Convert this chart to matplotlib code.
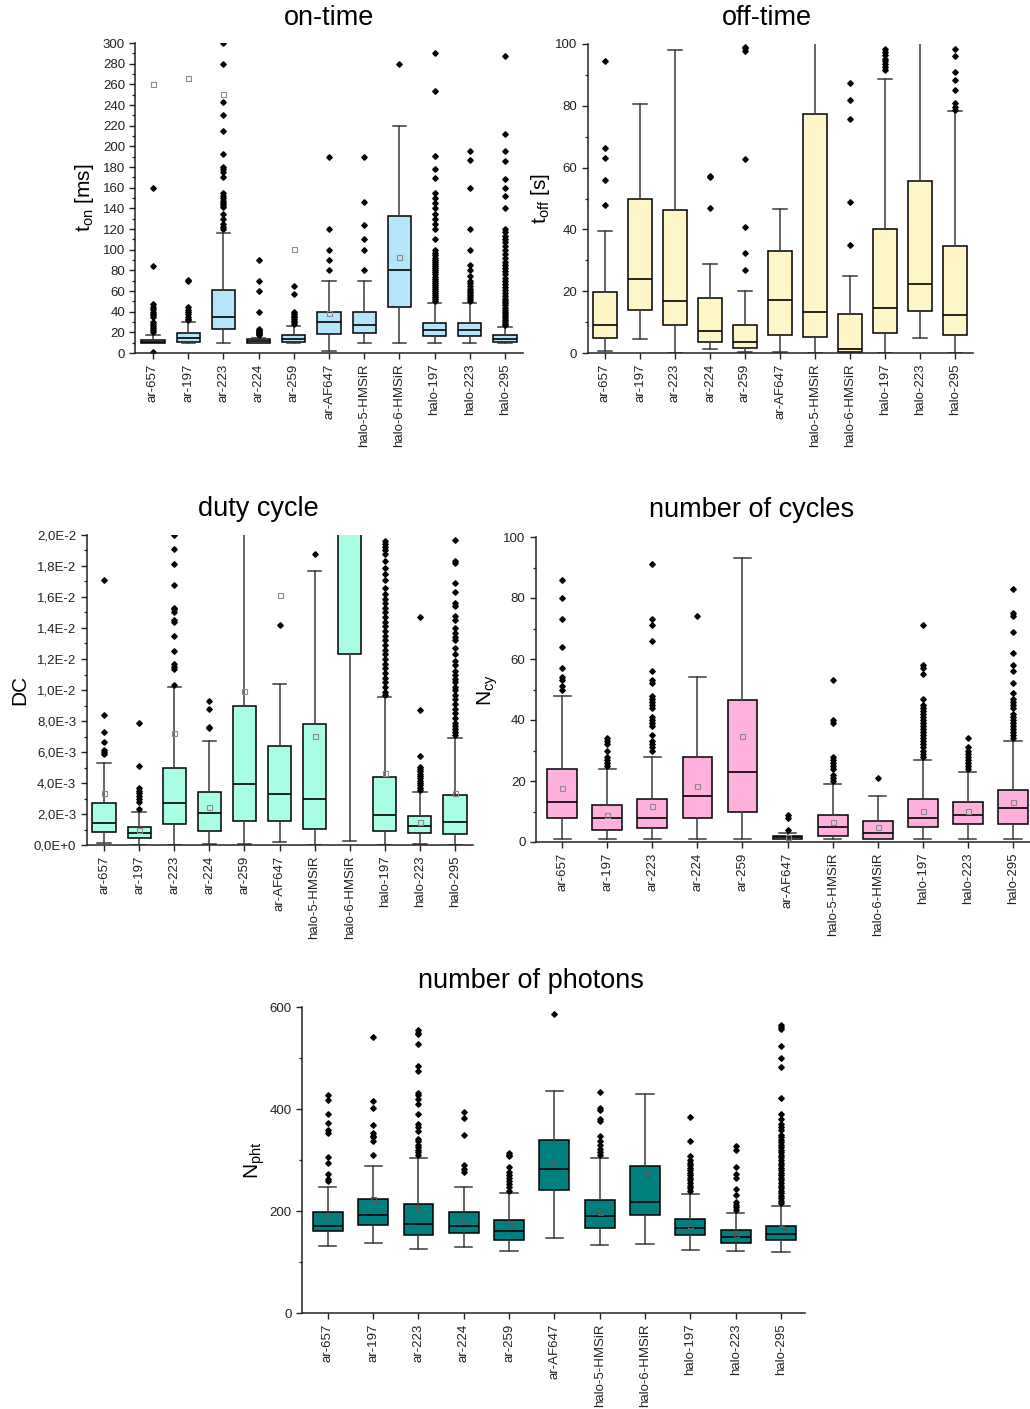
import numpy as np
import matplotlib
matplotlib.use("Agg")
import matplotlib.pyplot as plt
from matplotlib.ticker import MultipleLocator, FuncFormatter

plt.rcParams['font.family'] = ['Liberation Sans', 'DejaVu Sans']

labels = ['ar-657', 'ar-197', 'ar-223', 'ar-224', 'ar-259', 'ar-AF647',
          'halo-5-HMSiR', 'halo-6-HMSiR', 'halo-197', 'halo-223', 'halo-295']
nan = np.nan

# ---- on-time [ms]
on_q1 = [10, 11, 23, 10, 11, 18.5, 19, 45, 16.5, 16.5, 11]
on_med = [11, 15, 35, 12, 13.5, 30, 27, 80, 22, 22.6, 14]
on_q3 = [13, 19.4, 60.5, 14, 17, 40, 40, 133, 29.4, 29.4, 17]
on_lo = [10, 10, 10, 10, 10, 1.6, 10, 10, 10, 10, 10]
on_hi = [17.7, 29.7, 116, 15, 25.8, 70, 70, 220, 48.4, 48.4, 25]
on_mean = [260, 266, 251, nan, 101, 39, nan, 93, nan, nan, nan]
on_fliers = [
    [160, 84, 47, 45, 43, 40, 38, 37, 35, 30, 28, 26, 24, 22, 20, 1],
    [71, 70, 45, 42, 40, 38, 35, 33, 32],
    [300, 280, 243, 230, 215, 193, 180, 178, 175, 170, 155, 152, 150, 147,
     145, 143, 141, 135, 130, 125, 122, 120],
    [90, 70, 60, 40, 23, 22, 21, 20, 19, 18, 17],
    [65, 57, 40, 38, 36, 35, 33, 31, 30, 28],
    [190, 120, 100, 90, 80],
    [190, 146, 124, 110, 100, 80],
    [280],
    [290, 254, 191, 178, 169, 155, 150, 145, 140, 135, 130, 125, 120, 110,
     100, 97, 95, 92, 90, 88, 86, 84, 82, 80, 78, 76, 74, 72, 70, 68, 66,
     64, 62, 60, 58, 56, 54, 52, 50],
    [195, 187, 160, 120, 100, 85, 80, 75, 70, 68, 65, 62, 60, 58, 56, 54,
     52, 50],
    [287, 212, 195, 186, 168, 160, 152, 140, 120, 117, 113, 110, 107, 104,
     100, 96, 92, 88, 85, 82, 79, 76, 73, 70, 67, 64, 61, 58, 55, 52, 50,
     48, 46, 44, 42, 40, 38, 36, 34, 32, 30, 28, 27],
]

# ---- off-time [s]
off_q1 = [4.7, 13.8, 9, 3.5, 1.7, 5.7, 5.1, 0.3, 6.5, 13.7, 5.7]
off_med = [9.2, 23.8, 16.8, 7.2, 3.6, 17.3, 13.4, 1.3, 14.6, 22.2, 12.2]
off_q3 = [19.6, 49.8, 46.4, 17.8, 9.1, 33.1, 77.5, 12.5, 40.1, 55.7, 34.7]
off_lo = [0.6, 4.6, 0, 1.2, 0.2, 0.3, 0, 0, 0, 5, 0]
off_hi = [39.6, 80.6, 98, 28.7, 20, 46.7, 130, 24.9, 88.8, 140, 78.2]
off_mean = [nan] * 11
off_fliers = [
    [94.5, 66.4, 63, 56, 48],
    [],
    [],
    [57.3, 57, 47],
    [99, 98.7, 97.8, 62.7, 40.7, 32.5, 27],
    [],
    [],
    [87.4, 82, 75.7, 48.8, 34.8],
    [98.3, 97.3, 96.4, 95.3, 94.4, 93.5, 92.5, 91.6],
    [],
    [98.4, 96.2, 90.9, 88.5, 85.2, 80.9, 79.5, 78.8],
]

# ---- duty cycle (values in units of 1e-3)
dc_q1 = [0.82, 0.43, 1.38, 0.92, 1.55, 1.55, 1.03, 12.3, 0.92, 0.75, 0.69]
dc_med = [1.40, 0.75, 2.73, 2.04, 3.91, 3.31, 2.97, 25, 1.91, 1.23, 1.48]
dc_q3 = [2.69, 1.14, 4.95, 3.40, 8.97, 6.39, 7.83, 30, 4.37, 1.87, 3.20]
dc_lo = [0.13, 0.02, 0.02, 0.06, 0.06, 0.2, 0.02, 0.26, 0.02, 0.06, 0.02]
dc_hi = [5.31, 2.1, 10.2, 6.73, 30, 10.4, 17.7, 40, 9.53, 3.44, 6.92]
dc_mean = [3.38, 0.97, 7.2, 2.47, 9.96, 16.1, 7.03, nan, 4.67, 1.5, 3.33]
dc_fliers = [
    [17.1, 8.37, 7.29, 6.62, 6.1, 6.0, 5.85],
    [7.89, 5.12, 3.66, 3.5, 3.33, 3.16, 3.0, 2.8, 2.3],
    [20.0, 19.1, 18.1, 16.8, 15.3, 15.2, 15.0, 14.5, 14.4, 13.5, 12.5,
     11.65, 11.5, 11.35, 10.34],
    [9.29, 8.8, 7.63, 7.53],
    [],
    [14.2],
    [18.8],
    [],
    [19.6, 19.4, 19.2, 19.0, 18.8, 18.3, 17.9, 17.5, 17.1, 16.6, 16.2, 15.9,
     15.6, 15.3, 15.0, 14.7, 14.4, 14.1, 13.8, 13.5, 13.2, 12.9, 12.6, 12.3,
     12.0, 11.7, 11.4, 11.1, 10.8, 10.5, 10.2, 9.9, 9.7],
    [14.7, 8.73, 5.74, 5.05, 4.9, 4.75, 4.6, 4.45, 4.3, 4.15, 4.0, 3.85,
     3.7, 3.55],
    [19.7, 18.3, 18.2, 16.9, 16.3, 15.6, 15.4, 14.8, 14.5, 14.0, 13.7, 13.4,
     13.2, 12.7, 12.3, 11.9, 11.6, 11.2, 11.0, 10.7, 10.5, 10.2, 10.0, 9.7,
     9.4, 9.1, 8.8, 8.5, 8.2, 7.9, 7.7, 7.5, 7.3, 7.1],
]

# ---- number of cycles
cy_q1 = [8, 4, 4.5, 8, 10, 1, 2, 1, 5, 6, 6]
cy_med = [13, 8, 8, 15, 23, 1.5, 5, 3, 8, 9, 11]
cy_q3 = [24, 12, 14, 28, 46.5, 2, 9, 7, 14, 13, 17]
cy_lo = [1, 1, 1, 1, 1, 1, 1, 1, 1, 1, 1]
cy_hi = [48, 24, 28, 54, 93, 3, 19, 15, 27, 23, 33]
cy_mean = [17.8, 9, 11.8, 18.3, 34.8, 1.7, 6.5, 5, 10.3, 10.2, 13.1]
cy_fliers = [
    [86, 80, 73, 64, 57, 54, 53, 51, 50],
    [34, 33, 32, 30, 28, 27, 26, 25],
    [91, 73, 71, 66, 56, 53, 52, 48, 47, 46, 45, 44, 41, 40, 39, 38, 35,
     33, 32, 31, 30],
    [74],
    [],
    [9, 8, 4],
    [53, 40, 39, 28, 27, 26, 25, 24, 22, 21, 20],
    [21],
    [71, 58, 57, 55, 47, 45, 44, 43, 42, 41, 40, 39, 38, 37, 36, 35, 34, 33,
     32, 31, 30, 29, 28],
    [34, 31, 30, 29, 28, 27, 26, 25, 24],
    [83, 75, 74, 69, 62, 58, 56, 52, 49, 47, 46, 45, 44, 42, 41, 40, 39, 38,
     37, 36, 35, 34],
]

# ---- number of photons
ph_q1 = [160, 172, 153, 157, 143, 242, 166, 192, 152, 138, 143]
ph_med = [170, 193, 174, 170, 161, 282, 191, 218, 166, 149, 154]
ph_q3 = [199, 223, 214, 199, 182, 340, 221, 288, 185, 163, 171]
ph_lo = [131, 137, 126, 129, 121, 147, 133, 135, 124, 121, 119]
ph_hi = [247, 289, 304, 247, 235, 435, 304, 430, 234, 197, 210]
ph_mean = [193, 224, 207, 184, 174, 299, 199, 278, 172, 154, 167]
ph_fliers = [
    [428, 418, 390, 373, 358, 353, 305, 295, 273, 263, 258],
    [542, 416, 401, 369, 352, 348, 345, 337, 310],
    [555, 550, 547, 528, 485, 475, 432, 428, 420, 410, 390, 370, 365, 357,
     342, 337, 330, 325, 320, 315, 310],
    [394, 382, 349, 290, 282, 277],
    [313, 310, 307, 286, 276, 271, 265, 258, 252, 247, 240],
    [586],
    [434, 402, 398, 380, 377, 348, 337, 330, 322, 315, 310],
    [],
    [384, 338, 307, 300, 295, 290, 285, 280, 275, 270, 265, 260, 255, 250,
     245, 240],
    [327, 320, 286, 272, 265, 243, 232, 218, 212, 207, 202],
    [565, 560, 557, 524, 500, 482, 422, 390, 380, 370, 365, 358, 350, 345,
     340, 335, 330, 325, 320, 315, 310, 305, 300, 295, 290, 285, 280, 275,
     270, 265, 260, 255, 250, 245, 240, 235, 230, 225, 220, 215],
]

W, H = 1030, 1409
fig = plt.figure(figsize=(W / 100, H / 100), dpi=100)


def make_stats(q1, med, q3, lo, hi, mean, fliers, scale=1.0):
    out = []
    for i in range(len(q1)):
        out.append(dict(q1=q1[i] * scale, med=med[i] * scale, q3=q3[i] * scale,
                        whislo=lo[i] * scale, whishi=hi[i] * scale,
                        mean=mean[i] * scale,
                        fliers=np.array(fliers[i]) * scale))
    return out


def panel(left, right, top, bottom, xlim, ylim, stats, color, major, minor,
          fmt=None, meancolor='#8a8a8a'):
    ax = fig.add_axes([left / W, 1 - bottom / H, (right - left) / W,
                       (bottom - top) / H])
    ax.bxp(stats, positions=range(1, 12), widths=0.66, capwidths=0.38,
           patch_artist=True, showmeans=True, manage_ticks=False,
           boxprops=dict(facecolor=color, edgecolor='black', linewidth=1.1),
           medianprops=dict(color='black', linewidth=1.2),
           whiskerprops=dict(color='#3a3a3a', linewidth=1.1),
           capprops=dict(color='#3a3a3a', linewidth=1.1),
           flierprops=dict(marker='D', markerfacecolor='black',
                           markeredgecolor='black', markersize=2.8,
                           linestyle='none'),
           meanprops=dict(marker='s', markerfacecolor='none',
                          markeredgecolor=meancolor, markersize=3.6,
                          markeredgewidth=0.8))
    ax.set_xlim(*xlim)
    ax.set_ylim(*ylim)
    ax.set_xticks(range(1, 12))
    ax.set_xticklabels(labels, rotation=90, fontsize=9.5)
    ax.yaxis.set_major_locator(MultipleLocator(major))
    ax.yaxis.set_minor_locator(MultipleLocator(minor))
    if fmt is not None:
        ax.yaxis.set_major_formatter(fmt)
    ax.tick_params(axis='both', which='major', direction='out', length=4,
                   width=1, labelsize=9.5, colors='#222222')
    ax.tick_params(axis='y', which='minor', direction='out', length=2.5,
                   width=0.9, colors='#222222')
    for s in ['top', 'right']:
        ax.spines[s].set_visible(False)
    for s in ['left', 'bottom']:
        ax.spines[s].set_linewidth(1.1)
        ax.spines[s].set_color('#222222')
    return ax


def dc_fmt(v, pos):
    if abs(v) < 1e-12:
        return '0,0E+0'
    e = int(np.floor(np.log10(abs(v)) + 1e-9))
    m = v / 10 ** e
    return f'{m:.1f}E{e:+d}'.replace('.', ',')


panel(135.4, 522.6, 43, 353, (0.5, 11.5), (0, 300),
      make_stats(on_q1, on_med, on_q3, on_lo, on_hi, on_mean, on_fliers),
      '#b5e5fb', 20, 10)
panel(587.5, 972.5, 44, 353, (0.5, 11.5), (0, 100),
      make_stats(off_q1, off_med, off_q3, off_lo, off_hi, off_mean, off_fliers),
      '#fff6c8', 20, 10)
panel(86.5, 472.5, 535, 845, (0.5, 11.5), (0, 0.02),
      make_stats(dc_q1, dc_med, dc_q3, dc_lo, dc_hi, dc_mean, dc_fliers, 1e-3),
      '#a8fde4', 0.002, 0.001, FuncFormatter(dc_fmt))
panel(536, 1035.5, 537, 842, (0.42, 11.5), (0, 100),
      make_stats(cy_q1, cy_med, cy_q3, cy_lo, cy_hi, cy_mean, cy_fliers),
      '#fdb1dc', 20, 10)
panel(302, 805, 1007, 1313, (0.43, 11.53), (0, 600),
      make_stats(ph_q1, ph_med, ph_q3, ph_lo, ph_hi, ph_mean, ph_fliers),
      '#007f7e', 200, 100, meancolor='#5a5a5a')

# titles
for x, y, t in [(329, 18, 'on-time'), (767, 18, 'off-time'),
                (258, 509, 'duty cycle'), (752, 510, 'number of cycles'),
                (531, 981, 'number of photons')]:
    fig.text(x / W, 1 - y / H, t, ha='center', va='center', fontsize=19.5)

# y labels
for x, y, t in [(85, 198, r't$_\mathregular{on}$ [ms]'),
                (540, 198, r't$_\mathregular{off}$ [s]'),
                (20, 690, 'DC'),
                (488, 690, r'N$_\mathregular{cy}$'),
                (255, 1160, r'N$_\mathregular{pht}$')]:
    fig.text(x / W, 1 - y / H, t, ha='center', va='center', rotation=90,
             fontsize=15)

fig.savefig('out.png', dpi=100)
